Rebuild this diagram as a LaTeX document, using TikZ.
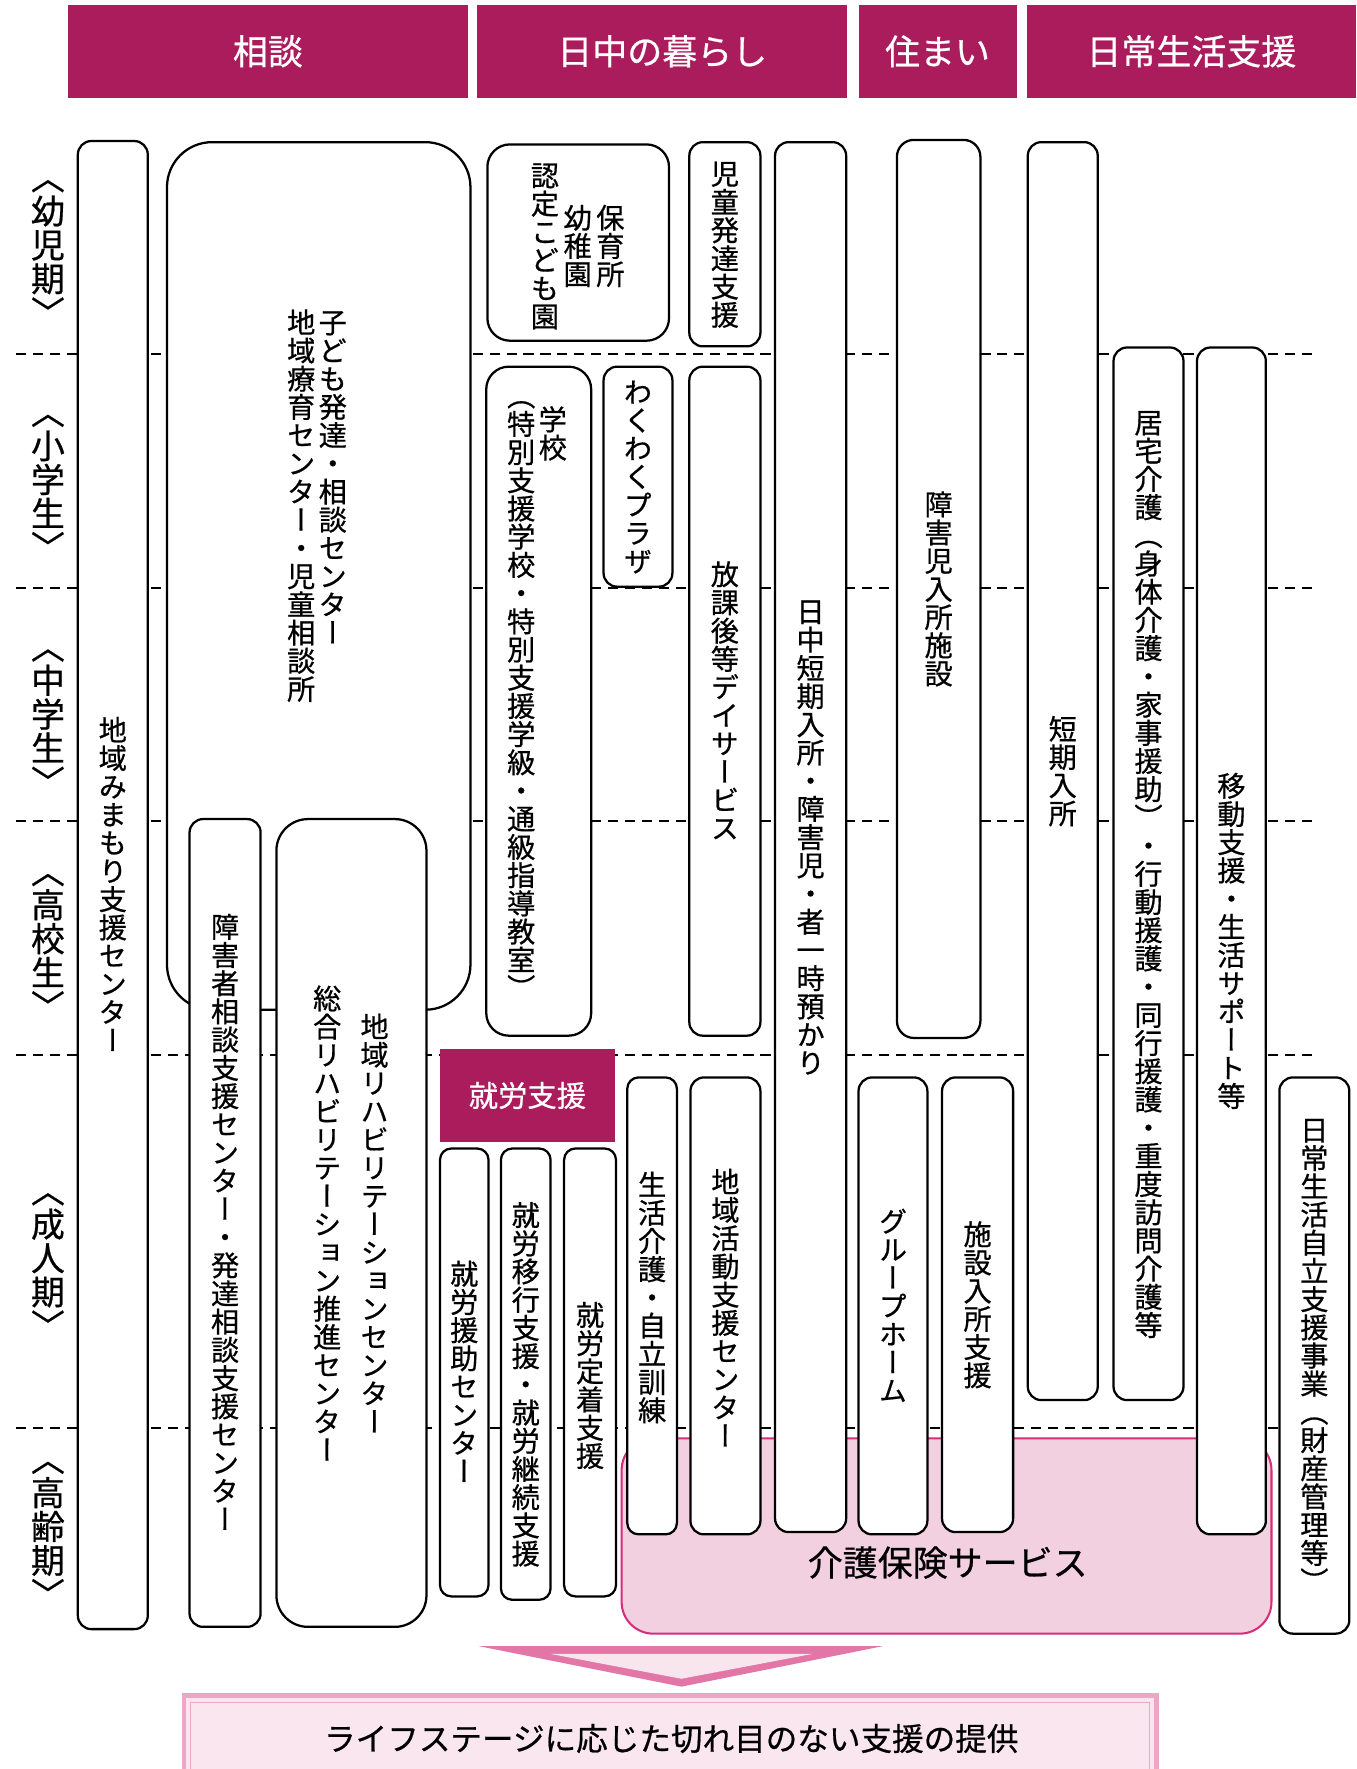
\documentclass[tikz,border=0pt]{standalone}
\usepackage{fontspec}
\newfontfamily\jp[FakeBold=0.6]{Noto Sans CJK JP}
\newfontfamily\jpv[RawFeature=+vert,FakeBold=0.6]{Noto Sans CJK JP}
\definecolor{hdred}{RGB}{170,28,92}
\definecolor{kfill}{RGB}{243,208,224}
\definecolor{kline}{RGB}{214,44,122}
\definecolor{arrpink}{RGB}{226,118,166}
\definecolor{arrfill}{RGB}{249,229,238}
\definecolor{bline}{RGB}{236,166,198}
\definecolor{bfill}{RGB}{250,230,239}
% vertical text: one character per em box
\makeatletter
\def\tate@end{\tate@end}
\newcommand\tate[1]{\vbox{\offinterlineskip\tate@loop#1\tate@end}}
\def\tate@loop#1{\ifx#1\tate@end\else
  \hbox to 1em{\hss\vrule height .88em depth .12em width 0pt\relax#1\hss}%
  \expandafter\tate@loop\fi}
\makeatother
\begin{document}
\begin{tikzpicture}[x=1pt,y=-1pt,
    box/.style={draw, line width=2, fill=white, rounded corners=12, inner sep=0,
      font=\jpv\fontsize{25}{25}\selectfont},
    sz/.style 2 args={minimum width=#1, minimum height=#2},
    vtxt/.style={font=\jpv\fontsize{25}{25}\selectfont, inner sep=0},
    agelbl/.style={font=\jpv\fontsize{30}{30}\selectfont, inner sep=0},
    hd/.style={fill=hdred, text=white, inner sep=0, font=\jp\fontsize{31}{31}\selectfont},
    dashline/.style={line width=1.5, dash pattern=on 9pt off 6pt}]
    \useasboundingbox (0,0) rectangle (1202,1568);
    \def\xl{14} \def\xr{1166}

    % headers
    \node[hd, sz={355}{83}] (soudan) at (237.5,45.5) {相談};
    \node[hd, sz={328}{83}] (kurashi) at (587,45.5) {日中の暮らし};
    \node[hd, sz={140}{83}] (sumai) at (831,45.5) {住まい};
    \node[hd, sz={292}{83}] (shien) at (1056,45.5) {日常生活支援};

    % life stages
    \node[agelbl] (youji) at (42.5,217) {\tate{〈幼児期〉}};
    \node[agelbl] (shogaku) at (42.5,425) {\tate{〈小学生〉}};
    \node[agelbl] (chugaku) at (42.5,633) {\tate{〈中学生〉}};
    \node[agelbl] (koko) at (42.5,832) {\tate{〈高校生〉}};
    \node[agelbl] (seijin) at (42.5,1115) {\tate{〈成人期〉}};
    \node[agelbl] (korei) at (42.5,1353) {\tate{〈高齢期〉}};

    \draw[dashline] (\xl,314) -- (\xr,314);
    \draw[dashline] (\xl,521) -- (\xr,521);
    \draw[dashline] (\xl,728) -- (\xr,728);
    \draw[dashline] (\xl,935) -- (\xr,935);
    \draw[dashline] (\xl,1266) -- (\xr,1266);

    \node[draw=kline, fill=kfill, line width=1.8, rounded corners=28, sz={576}{173}] (kaigo) at (839,1361.5) {};
    \node[font=\jp\fontsize{31}{31}\selectfont] (kaigoT) at (840,1385) {介護保険サービス};

    % soudan
    \node[box, sz={62}{1319}] (mimamori) at (100,784.5) {\tate{地域みまもり支援センター}};
    \node[box, rounded corners=40, sz={269}{769}] (kodomo) at (282.5,510.5) {};
    \node[vtxt, below] (kodomoA) at (295,273) {\tate{子ども発達・相談センター}};
    \node[vtxt, below] (kodomoB) at (267,273) {\tate{地域療育センター・児童相談所}};
    \node[box, sz={63}{716}] (shogaisha) at (199.5,1084) {\tate{障害者相談支援センター・発達相談支援センター}};
    \node[box, rounded corners=28, sz={133}{716}] (rehab) at (311.5,1084) {};
    \node[vtxt] (rehabA) at (332,1085) {\tate{地域リハビリテーションセンター}};
    \node[vtxt] (rehabB) at (290,1085) {\tate{総合リハビリテーション推進センター}};

    % nicchu no kurashi
    \node[box, rounded corners=20, sz={161}{174}] (hoiku) at (512.5,215) {};
    \node[vtxt] (hoikuA) at (541,218) {\tate{保育所}};
    \node[vtxt] (hoikuB) at (512,218) {\tate{幼稚園}};
    \node[vtxt] (hoikuC) at (483,218) {\tate{認定こども園}};
    \node[box, sz={63}{181}] (jido) at (642.5,216.5) {\tate{児童発達支援}};
    \node[box, rounded corners=20, sz={93}{593}] (gakko) at (477.5,621.5) {};
    \node[vtxt, below] (gakkoA) at (490,359) {\tate{学校}};
    \node[vtxt, below] (gakkoB) at (462,338) {\tate{（特別支援学校・特別支援学級・通級指導教室）}};
    \node[box, sz={61}{195}] (waku) at (565.5,422.5) {\tate{わくわくプラザ}};
    \node[box, sz={63}{593}] (houkago) at (642.5,621.5) {\tate{放課後等デイサービス}};
    \node[box, sz={63}{1232}] (nicchu) at (718.5,742) {\tate{日中短期入所・障害児・者一時預かり}};

    \node[hd, font=\jp\fontsize{26}{26}\selectfont, sz={155}{82}] (shuro) at (467.5,971) {就労支援};
    \node[box, rounded corners=10, sz={43}{397}] (enjo) at (411.5,1216.5) {\tate{就労援助センター}};
    \node[box, rounded corners=10, sz={44}{400}] (iko) at (466,1218) {};
    \node[vtxt] (ikoT) at (466,1227) {\tate{就労移行支援・就労継続支援}};
    \node[box, rounded corners=10, sz={46}{397}] (teichaku) at (523,1216.5) {};
    \node[vtxt] (teichakuT) at (523,1228) {\tate{就労定着支援}};
    \node[box, rounded corners=10, sz={44}{405}] (seikatsu) at (578,1157.5) {};
    \node[vtxt] (seikatsuT) at (578,1150) {\tate{生活介護・自立訓練}};
    \node[box, sz={62}{405}] (chiiki) at (643,1157.5) {};
    \node[vtxt] (chiikiT) at (643,1160) {\tate{地域活動支援センター}};

    % sumai
    \node[box, rounded corners=15, sz={74}{796}] (nyusho) at (832,522) {\tate{障害児入所施設}};
    \node[box, sz={61}{405}] (group) at (791.5,1157.5) {\tate{グループホーム}};
    \node[box, sz={63}{403}] (shisetsu) at (866.5,1156.5) {\tate{施設入所支援}};

    % nichijo seikatsu shien
    \node[box, sz={62}{1115}] (tanki) at (942,683.5) {\tate{短期入所}};
    \node[box, sz={62}{933}] (kyotaku) at (1018,774.5) {\tate{居宅介護（身体介護・家事援助）・行動援護・同行援護・重度訪問介護等}};
    \node[box, sz={61}{1052}] (ido) at (1091.5,834) {\tate{移動支援・生活サポート等}};
    \node[box, sz={62}{493}] (jiritsu) at (1165,1201.5) {\tate{日常生活自立支援事業（財産管理等）}};

    % arrow and result
    \fill[arrpink] (424,1459) -- (783,1459) -- (604,1495) -- cycle;
    \fill[arrfill] (488,1466) -- (720,1466) -- (604,1488) -- cycle;
    \fill[bfill] (161,1501) rectangle (1027,1568);
    \draw[bline, line width=4] (163,1568) -- (163,1503) -- (1025,1503) -- (1025,1568);
    \draw[bline, line width=1.2] (169,1568) -- (169,1509) -- (1019,1509) -- (1019,1568);
    \node[font=\jp\fontsize{28}{28}\selectfont] (teikyo) at (595,1541) {ライフステージに応じた切れ目のない支援の提供};
\end{tikzpicture}
\end{document}
